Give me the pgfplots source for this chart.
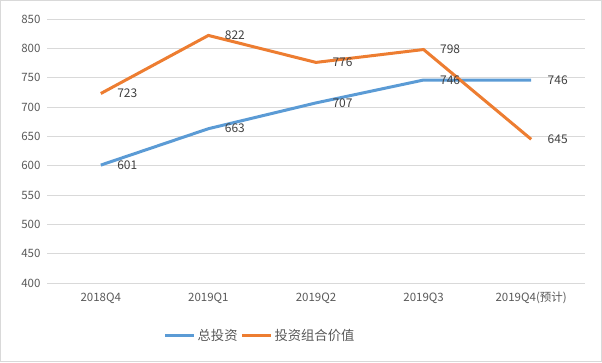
\documentclass[border=0pt]{standalone}
\usepackage{pgfplots}
\pgfplotsset{compat=1.18}
\usepackage{fontspec}
\setmainfont{Noto Sans CJK SC}
\newfontfamily\cjk{Noto Sans CJK SC}
\definecolor{blue1}{HTML}{5B9BD5}
\definecolor{orange1}{HTML}{ED7D31}
\definecolor{gridc}{HTML}{D9D9D9}
\definecolor{txt}{HTML}{595959}
\definecolor{lbl}{HTML}{404040}
\begin{document}
\begin{tikzpicture}
\useasboundingbox (0,0) rectangle (602pt,362pt);
\draw[gridc, line width=0.8pt] (0.5pt,0.5pt) rectangle (601.5pt,361.5pt);
\begin{axis}[
  at={(47pt,79pt)}, anchor=south west,
  scale only axis, width=538pt, height=264pt,
  xmin=-0.5, xmax=4.5, ymin=400, ymax=850,
  xtick={0,1,2,3,4},
  xticklabels={2018Q4,2019Q1,2019Q2,2019Q3,{2019Q4(预计)}},
  ytick={400,450,...,850},
  axis line style={draw=none}, tick style={draw=none},
  ymajorgrids, grid style={gridc, line width=0.8pt},
  /pgf/number format/assume math mode=true,
  /pgf/number format/1000 sep={},
  tick label style={font=\fontsize{11.5}{14}\selectfont, text=txt},
  yticklabel style={xshift=-3pt},
  xticklabel style={yshift=-6pt, text height=9pt, text depth=2pt},
  clip=false,
  nodes near coords,
  every node near coord/.append style={font=\fontsize{12}{14}\selectfont, text=lbl, anchor=west, inner sep=0pt, xshift=15pt, yshift=0pt},
  legend style={at={(0.396,-0.2)}, anchor=center, draw=none, fill=none,
    font=\fontsize{13.3}{15}\selectfont, text=txt,
    /tikz/every even column/.append style={column sep=1pt}},
  legend columns=-1,
  legend image code/.code={\draw[#1, line width=3pt] (0pt,0pt) -- (29pt,0pt);},
]
\addplot[blue1, line width=3pt, mark=none] coordinates {(0,601) (1,663) (2,707) (3,746) (4,746)};
\addlegendentry{总投资}
\addplot[orange1, line width=3pt, mark=none] coordinates {(0,723) (1,822) (2,776) (3,798) (4,645)};
\addlegendentry{投资组合价值}
\end{axis}
\end{tikzpicture}
\end{document}
